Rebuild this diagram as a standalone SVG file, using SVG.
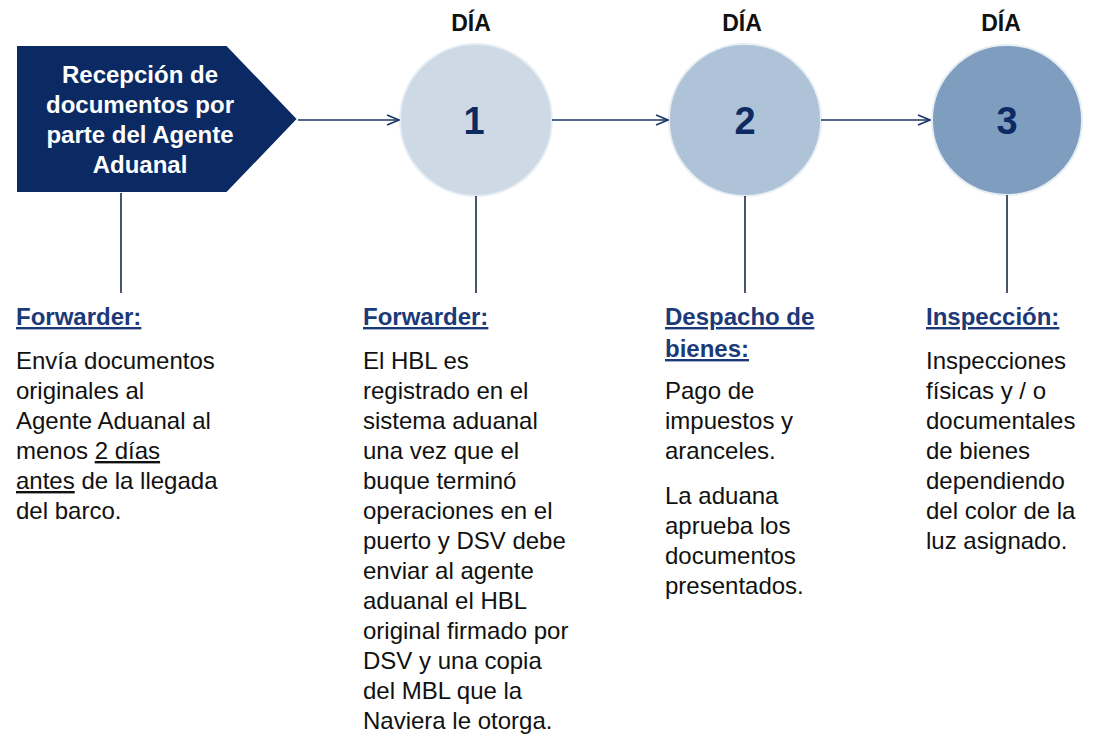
<svg xmlns="http://www.w3.org/2000/svg" width="1104" height="752" viewBox="0 0 1104 752">
<defs>
<marker id="ah" markerWidth="14" markerHeight="12" refX="13" refY="6" orient="auto" markerUnits="userSpaceOnUse"><path d="M1,1 L13,6 L1,11" fill="none" stroke="#1b3668" stroke-width="1.6"/></marker>
<style>
text{font-family:"Liberation Sans",Arial,sans-serif}
.dia{font-size:23px;font-weight:bold;fill:#111;text-anchor:middle}
.num{font-size:38px;font-weight:bold;fill:#0d2a63;text-anchor:middle}
.h{font-size:24px;font-weight:bold;fill:#1c3a78;text-decoration:underline}
.b{font-size:24px;fill:#111}
.ln{stroke:#1b2a44;stroke-width:1.6;fill:none}
.ar{stroke:#1b3668;stroke-width:1.6;fill:none;marker-end:url(#ah)}
</style>
</defs>
<rect width="1104" height="752" fill="#fff"/>
<g id="start">
<polygon points="16,45 227,45 298,119 227,193 16,193" fill="#0b2a63" stroke="#fff" stroke-width="2"/>
<text text-anchor="middle" font-size="24" font-weight="bold" fill="#fff"><tspan x="140" y="83">Recepción de</tspan><tspan x="140" y="113">documentos por</tspan><tspan x="140" y="143">parte del Agente</tspan><tspan x="140" y="173">Aduanal</tspan></text>
</g>
<g id="day1"><text class="dia" x="471" y="31">DÍA</text><circle cx="476" cy="120" r="76" fill="#cddae6" stroke="#e6edf3" stroke-width="2"/><text class="num" x="474" y="134">1</text></g>
<g id="day2"><text class="dia" x="742" y="31">DÍA</text><circle cx="745" cy="120" r="76" fill="#aec3d8" stroke="#e6edf3" stroke-width="2"/><text class="num" x="745" y="134">2</text></g>
<g id="day3"><text class="dia" x="1001" y="31">DÍA</text><circle cx="1007" cy="120" r="75" fill="#7e9dbf" stroke="#e6edf3" stroke-width="2"/><text class="num" x="1007" y="134">3</text></g>
<g id="connectors">
<line class="ar" x1="298" y1="120" x2="399" y2="120"/>
<line class="ar" x1="552" y1="120" x2="668" y2="120"/>
<line class="ar" x1="821" y1="120" x2="930" y2="120"/>
<line class="ln" x1="121" y1="193" x2="121" y2="293"/>
<line class="ln" x1="476" y1="196" x2="476" y2="293"/>
<line class="ln" x1="745" y1="196" x2="745" y2="293"/>
<line class="ln" x1="1007" y1="195" x2="1007" y2="293"/>
</g>
<g id="col1">
<text class="h" x="16" y="325">Forwarder:</text>
<text class="b"><tspan x="16" y="369">Envía documentos</tspan><tspan x="16" y="399">originales al</tspan><tspan x="16" y="429">Agente Aduanal al</tspan><tspan x="16" y="459">menos <tspan text-decoration="underline">2 días</tspan></tspan><tspan x="16" y="489"><tspan text-decoration="underline">antes</tspan> de la llegada</tspan><tspan x="16" y="519">del barco.</tspan></text>
</g>
<g id="col2">
<text class="h" x="363" y="325">Forwarder:</text>
<text class="b"><tspan x="363" y="369">El HBL es</tspan><tspan x="363" y="399">registrado en el</tspan><tspan x="363" y="429">sistema aduanal</tspan><tspan x="363" y="459">una vez que el</tspan><tspan x="363" y="489">buque terminó</tspan><tspan x="363" y="519">operaciones en el</tspan><tspan x="363" y="549">puerto y DSV debe</tspan><tspan x="363" y="579">enviar al agente</tspan><tspan x="363" y="609">aduanal el HBL</tspan><tspan x="363" y="639">original firmado por</tspan><tspan x="363" y="669">DSV y una copia</tspan><tspan x="363" y="699">del MBL que la</tspan><tspan x="363" y="729">Naviera le otorga.</tspan></text>
</g>
<g id="col3">
<text class="h"><tspan x="665" y="325">Despacho de</tspan><tspan x="665" y="357">bienes:</tspan></text>
<text class="b"><tspan x="665" y="399">Pago de</tspan><tspan x="665" y="429">impuestos y</tspan><tspan x="665" y="459">aranceles.</tspan><tspan x="665" y="504">La aduana</tspan><tspan x="665" y="534">aprueba los</tspan><tspan x="665" y="564">documentos</tspan><tspan x="665" y="594">presentados.</tspan></text>
</g>
<g id="col4">
<text class="h" x="926" y="325">Inspección:</text>
<text class="b"><tspan x="926" y="369">Inspecciones</tspan><tspan x="926" y="399">físicas y / o</tspan><tspan x="926" y="429">documentales</tspan><tspan x="926" y="459">de bienes</tspan><tspan x="926" y="489">dependiendo</tspan><tspan x="926" y="519">del color de la</tspan><tspan x="926" y="549">luz asignado.</tspan></text>
</g>
</svg>
